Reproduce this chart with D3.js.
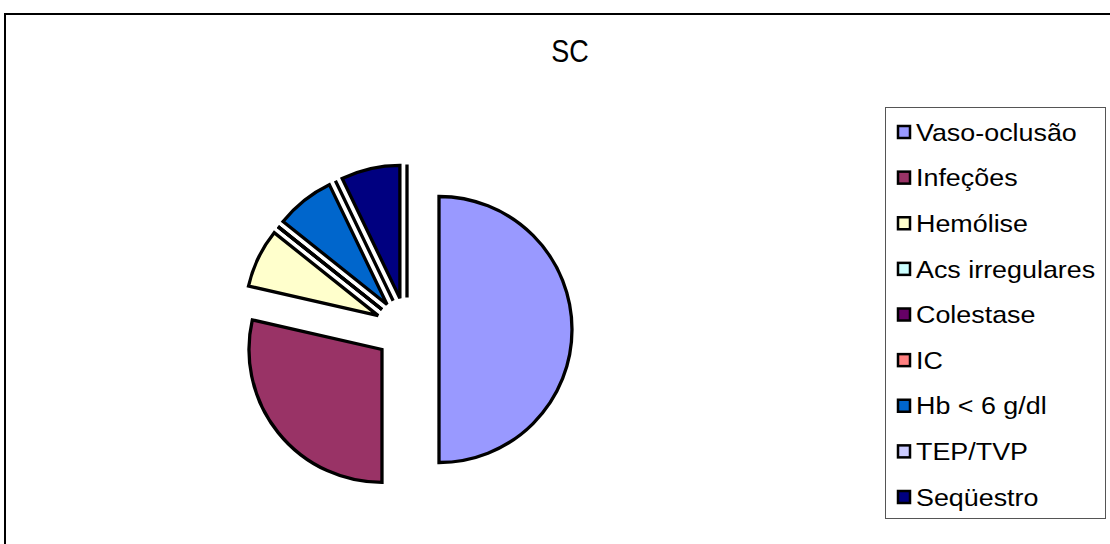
<!DOCTYPE html>
<html>
<head>
<meta charset="utf-8">
<script src="https://cdn.jsdelivr.net/npm/d3@7"></script>
<style>
  html, body { margin: 0; padding: 0; background: #fff; }
  svg { display: block; font-family: "Liberation Sans", Arial, sans-serif; }
</style>
</head>
<body>
<svg id="chart" width="1110" height="544"></svg>
<script>
// Complications (SC genotype) — counts per category
const categories = ["Vaso-oclusão", "Infeções", "Hemólise", "Acs irregulares", "Colestase", "IC", "Hb < 6 g/dl", "TEP/TVP", "Seqüestro", ""];
const values     = [7, 4, 1, 0, 0, 0, 1, 0, 1, 0];
const colors     = ["#9999FF", "#993366", "#FFFFCC", "#CCFFFF", "#660066", "#FF8080", "#0066CC", "#CCCCFF", "#000080", "#FFFFFF"];
const title = "SC";

const svg = d3.select("#chart");

// outer chart frame (runs past the right and bottom edges)
svg.append("rect")
  .attr("x", 5).attr("y", 14)
  .attr("width", 1300).attr("height", 700)
  .attr("fill", "#fff").attr("stroke", "#000").attr("stroke-width", 2);

svg.append("text")
  .attr("transform", "translate(570,62) scale(0.9,1.05)")
  .attr("text-anchor", "middle")
  .attr("font-size", 30)
  .attr("fill", "#000")
  .text(title);

// exploded pie
const cx = 407, cy = 329.5, radius = 133, explode = 32;
const data = categories.map((c, i) => ({ name: c, value: values[i], color: colors[i] }));
const pie = d3.pie().value(d => d.value).sort(null);
const arc = d3.arc().innerRadius(0).outerRadius(radius);
const arcs = pie(data);

const g = svg.append("g").attr("transform", `translate(${cx},${cy})`);
g.selectAll("path")
  .data(arcs)
  .join("path")
  .attr("transform", d => {
    const a = (d.startAngle + d.endAngle) / 2;
    return `translate(${explode * Math.sin(a)},${-explode * Math.cos(a)})`;
  })
  .attr("d", arc)
  .attr("fill", d => d.data.color)
  .attr("stroke", "#000")
  .attr("stroke-width", 3.3)
  .attr("stroke-linejoin", "miter");

// legend
const legendItems = data.filter(d => d.name !== "");
const lg = svg.append("g");
lg.append("rect")
  .attr("x", 885.5).attr("y", 107.5)
  .attr("width", 220).attr("height", 411)
  .attr("fill", "#fff").attr("stroke", "#555").attr("stroke-width", 1);

const rowY = d3.scalePoint().domain(legendItems.map(d => d.name)).range([132, 497]);
const rows = lg.selectAll("g.row")
  .data(legendItems)
  .join("g")
  .attr("class", "row")
  .attr("transform", d => `translate(0,${rowY(d.name)})`);

rows.append("rect")
  .attr("x", 898).attr("y", -6)
  .attr("width", 12).attr("height", 12)
  .attr("fill", d => d.color)
  .attr("stroke", "#000").attr("stroke-width", 2.5);

rows.append("text")
  .attr("transform", "translate(916,0) scale(1.12,1)")
  .attr("dy", "0.36em")
  .attr("font-size", 24)
  .attr("fill", "#000")
  .text(d => d.name);
</script>
</body>
</html>
